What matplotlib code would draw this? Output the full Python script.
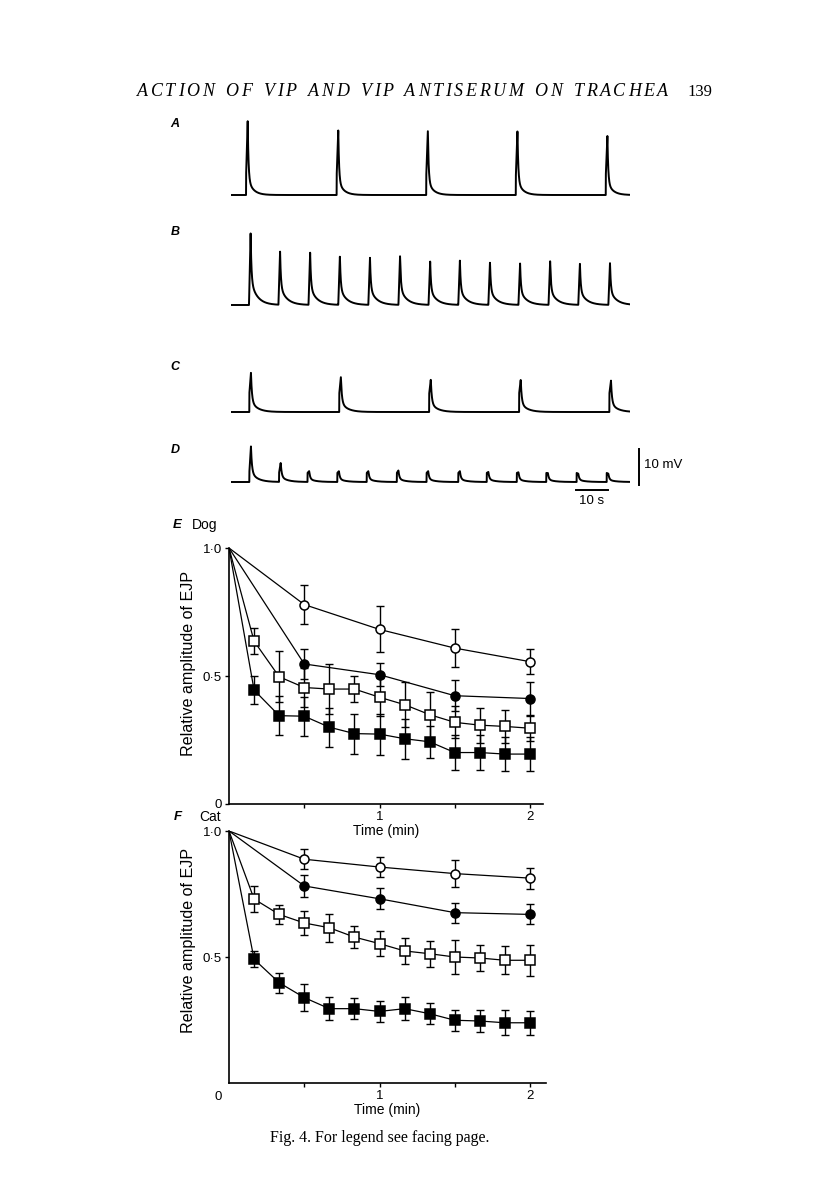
import numpy as np
import matplotlib
matplotlib.use("Agg")
import matplotlib.pyplot as plt

plt.rcParams["font.family"] = ["Liberation Sans", "DejaVu Sans"]

W, H = 816, 1183

# ---- traces A-D: spike times (s), peak amplitudes (mV), stimulus artefact (mV)
A_times = [5.1, 32.8, 60.2, 87.6, 115.1]
A_amps = [20.8, 18.1, 17.8, 17.9, 16.7]
B_times = [6.0, 15.0, 24.2, 33.3, 42.5, 51.7, 60.9, 70.0, 79.2, 88.4, 97.6, 106.7, 115.9]
B_amps = [19.9, 15.1, 14.5, 13.6, 13.2, 13.6, 12.3, 12.3, 11.9, 11.6, 12.2, 11.6, 11.6]
C_times = [6.1, 33.6, 61.1, 88.6, 116.2]
C_amps = [10.9, 9.7, 9.0, 9.0, 8.8]
D_times = [6.1, 15.2, 23.9, 33.0, 42.0, 51.2, 60.3, 70.0, 78.7, 87.9, 96.9, 106.2, 115.4]
D_amps = [9.9, 5.3, 3.0, 3.0, 3.0, 3.2, 3.0, 3.0, 2.8, 2.7, 2.5, 2.3, 2.3]

# ---- E (dog) and F (cat): relative EJP amplitude vs time
t_circ = [30, 60, 90, 120]                                   # s
t_sq = [10, 20, 30, 40, 50, 60, 70, 80, 90, 100, 110, 120]   # s

dog_oc = [0.779, 0.682, 0.609, 0.556]
dog_oc_err = [0.077, 0.090, 0.075, 0.050]
dog_fc = [0.547, 0.505, 0.423, 0.412]
dog_fc_err = [0.060, 0.044, 0.060, 0.064]
dog_os = [0.636, 0.497, 0.455, 0.449, 0.449, 0.417, 0.388, 0.349, 0.319, 0.308, 0.303, 0.296]
dog_os_err = [0.052, 0.100, 0.078, 0.097, 0.052, 0.075, 0.087, 0.090, 0.062, 0.068, 0.065, 0.048]
dog_fs = [0.445, 0.345, 0.343, 0.300, 0.275, 0.273, 0.255, 0.243, 0.201, 0.201, 0.195, 0.195]
dog_fs_err = [0.055, 0.076, 0.076, 0.076, 0.078, 0.080, 0.078, 0.063, 0.070, 0.070, 0.068, 0.066]

cat_oc = [0.888, 0.857, 0.831, 0.813]
cat_oc_err = [0.040, 0.040, 0.053, 0.042]
cat_fc = [0.782, 0.731, 0.676, 0.669]
cat_fc_err = [0.042, 0.042, 0.040, 0.040]
cat_os = [0.730, 0.669, 0.635, 0.616, 0.579, 0.553, 0.524, 0.513, 0.500, 0.496, 0.487, 0.487]
cat_os_err = [0.050, 0.038, 0.049, 0.055, 0.044, 0.049, 0.051, 0.052, 0.066, 0.051, 0.056, 0.062]
cat_fs = [0.491, 0.398, 0.339, 0.295, 0.295, 0.284, 0.295, 0.275, 0.249, 0.246, 0.239, 0.239]
cat_fs_err = [0.032, 0.040, 0.055, 0.046, 0.043, 0.040, 0.046, 0.042, 0.041, 0.043, 0.050, 0.048]

TITLE = "ACTION OF VIP AND VIP ANTISERUM ON TRACHEA"

fig = plt.figure(figsize=(W / 100, H / 100), dpi=100)


def px_axes(left, top, width, height):
    return fig.add_axes([left / W, 1 - (top + height) / H, width / W, height / H])


def ftext(x, y, s, **kw):
    return fig.text(x / W, 1 - y / H, s, **kw)


def trace(times, amps, art, frac, tau1, tau2, t):
    v = np.zeros_like(t)
    rise = 0.5
    for tp, a in zip(times, amps):
        on = tp - rise
        r = (t >= on) & (t < tp)
        v[r] += art + (a - art) * (t[r] - on) / rise
        d = t >= tp
        dt = t[d] - tp
        v[d] += a * (frac * np.exp(-dt / tau1) + (1 - frac) * np.exp(-dt / tau2))
    return v


t = np.linspace(0, 122, 6000)
PX_S, PX_MV = 3.27, 3.6
rows = [("A", 195, A_times, A_amps, 5.0, 0.78, 0.25, 1.6),
        ("B", 305, B_times, B_amps, 0.0, 0.66, 0.25, 2.0),
        ("C", 412, C_times, C_amps, 5.0, 0.72, 0.30, 2.0),
        ("D", 482, D_times, D_amps, 2.5, 0.72, 0.30, 2.0)]
for lab, base, tt, aa, art, f, t1, t2 in rows:
    ax = px_axes(231, base - 85, 122 * PX_S, 100)
    ax.plot(t, trace(tt, aa, art, f, t1, t2, t), color="k", lw=1.4)
    ax.set_xlim(0, 122)
    ax.set_ylim(-15 / PX_MV, 85 / PX_MV)
    ax.axis("off")
    ftext(175, base - 85 + {"A": 14, "B": 12, "C": 40, "D": 53}[lab], lab,
          fontsize=9, fontweight="bold", fontstyle="italic", ha="center", va="center")
    if lab == "D":
        # calibration bars
        ax.plot([124.8, 124.8], [-0.92, 9.08], color="k", lw=1.4, clip_on=False)
        ax.plot([105.4, 115.4], [-2.3, -2.3], color="k", lw=1.4, clip_on=False)
        ax.text(126.3, 4.6, "10 mV", fontsize=9.5, ha="left", va="center")
        ax.text(110.4, -5.3, "10 s", fontsize=9.5, ha="center", va="center")


def panel(top, height, width, data, zero_low, ylab_y):
    ax = px_axes(229, top, width, height)
    ax.patch.set_visible(False)
    for vals, errs, times, mk, fc in data:
        x = [0] + [s / 60 for s in times]
        y = [1.0] + list(vals)
        ax.plot(x, y, color="k", lw=0.9, zorder=2)
        ax.errorbar(x[1:], vals, yerr=errs, fmt="none", ecolor="k", elinewidth=1.0,
                    capsize=3, capthick=1.0, zorder=3)
        ax.plot(x[1:], vals, ls="none", marker=mk, ms=6.5, mfc=fc, mec="k",
                mew=1.1, zorder=4)
    ax.set_xlim(0, width / 150.5)
    ax.set_ylim(0, 1.0)
    for s in ("top", "right"):
        ax.spines[s].set_visible(False)
    for s in ("left", "bottom"):
        ax.spines[s].set_linewidth(1.2)
    ax.set_xticks([0.5, 1, 1.5, 2])
    ax.set_xticklabels(["", "1", "", "2"])
    if zero_low:
        ax.set_yticks([0.5, 1.0])
        ax.set_yticklabels(["0·5", "1·0"])
    else:
        ax.set_yticks([0, 0.5, 1.0])
        ax.set_yticklabels(["0", "0·5", "1·0"])
    ax.tick_params(direction="out", length=3, width=1, labelsize=9.5, pad=2)
    ax.set_xlabel("Time (min)", fontsize=10, labelpad=1)
    ftext(188, ylab_y, "Relative amplitude of EJP", fontsize=11.6, rotation=90,
          ha="center", va="center")
    return ax


dog = [(dog_oc, dog_oc_err, t_circ, "o", "white"),
       (dog_fc, dog_fc_err, t_circ, "o", "k"),
       (dog_os, dog_os_err, t_sq, "s", "white"),
       (dog_fs, dog_fs_err, t_sq, "s", "k")]
cat = [(cat_oc, cat_oc_err, t_circ, "o", "white"),
       (cat_fc, cat_fc_err, t_circ, "o", "k"),
       (cat_os, cat_os_err, t_sq, "s", "white"),
       (cat_fs, cat_fs_err, t_sq, "s", "k")]

panel(548, 256, 314, dog, False, 663)
panel(831, 252, 317, cat, True, 940)
ftext(218, 1097, "0", fontsize=9.5, ha="center", va="center")

ftext(177, 525, "E", fontsize=9.5, fontstyle="italic", fontweight="bold", ha="center", va="center")
ftext(205, 525, "Dog", fontsize=10, ha="center", va="center")
ftext(178, 817, "F", fontsize=9.5, fontstyle="italic", fontweight="bold", ha="center", va="center")
ftext(210, 817, "Cat", fontsize=10, ha="center", va="center")

# running head, letter-spaced caps between x=137 and x=668
renderer = fig.canvas.get_renderer()
tkw = dict(fontsize=13, family="Liberation Serif", fontstyle="italic", va="center", ha="left")
widths = []
for ch in TITLE:
    if ch == " ":
        widths.append(6.0)
        continue
    tmp = ftext(0, 0, ch, **tkw)
    widths.append(tmp.get_window_extent(renderer).width)
    tmp.remove()
track = (668 - 137 - sum(widths)) / (len(TITLE) - 1)
x = 137.0
for ch, w in zip(TITLE, widths):
    if ch != " ":
        ftext(x, 92, ch, **tkw)
    x += w + track
ftext(700, 92, "139", fontsize=12, family="Liberation Serif", ha="center", va="center")
ftext(380, 1138, "Fig. 4. For legend see facing page.", fontsize=11.5,
      family="Liberation Serif", ha="center", va="center")

fig.savefig("out.png", dpi=100)
